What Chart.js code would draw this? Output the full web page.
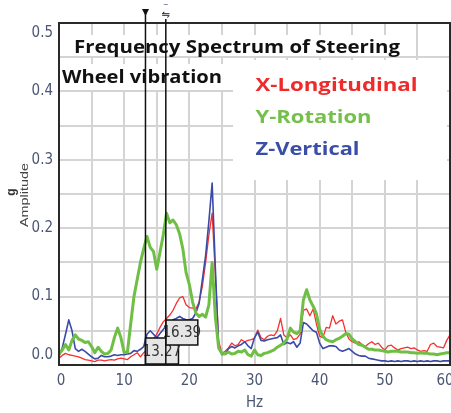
<!DOCTYPE html>
<html><head><meta charset="utf-8">
<script src="https://cdn.jsdelivr.net/npm/chart.js@4/dist/chart.umd.min.js"></script>
<style>html,body{margin:0;padding:0;background:#fff;}#wrap{width:451px;height:413px;}</style>
</head><body><div id="wrap"><canvas id="c" width="451" height="413"></canvas></div>
<script>
const freqHz = [0,0.5,1,1.5,2,2.5,3,3.5,4,4.5,5,5.5,6,6.5,7,7.5,8,8.5,9,9.5,
10,10.5,11,11.5,12,12.5,13,13.5,14,14.5,15,15.5,16,16.5,17,17.5,18,18.5,19,19.5,
20,20.5,21,21.5,22,22.5,23,23.5,24,24.5,25,25.5,26,26.5,27,27.5,28,28.5,29,29.5,
30,30.5,31,31.5,32,32.5,33,33.5,34,34.5,35,35.5,36,36.5,37,37.5,38,38.5,39,39.5,
40,40.5,41,41.5,42,42.5,43,43.5,44,44.5,45,45.5,46,46.5,47,47.5,48,48.5,49,49.5,
50,50.5,51,51.5,52,52.5,53,53.5,54,54.5,55,55.5,56,56.5,57,57.5,58,58.5,59,59.5,60];

const xLongitudinal = [.010,.014,.017,.015,.014,.013,.012,.010,.008,.007,
.006,.005,.007,.007,.006,.007,.008,.007,.009,.010,
.009,.008,.012,.015,.018,.012,.018,.022,.034,.038,
.045,.055,.063,.068,.073,.080,.090,.098,.100,.088,
.084,.083,.082,.092,.115,.150,.190,.222,.130,.035,
.017,.020,.025,.032,.028,.030,.037,.034,.036,.037,
.039,.051,.040,.037,.042,.044,.043,.050,.068,.044,
.040,.044,.037,.039,.045,.080,.082,.072,.082,.060,
.042,.040,.055,.054,.072,.060,.064,.066,.048,.038,
.034,.032,.034,.030,.027,.031,.034,.030,.032,.026,
.022,.028,.029,.025,.022,.024,.025,.026,.024,.025,
.022,.020,.021,.020,.030,.032,.027,.026,.025,.036,.044];

const yRotation = [.016,.022,.030,.022,.036,.044,.038,.036,.033,.034,
.027,.018,.026,.020,.016,.017,.022,.040,.054,.040,
.018,.019,.060,.100,.125,.150,.170,.188,.172,.166,
.140,.165,.190,.222,.208,.212,.205,.192,.170,.135,
.118,.092,.076,.071,.074,.070,.088,.150,.070,.025,
.017,.016,.019,.016,.017,.020,.019,.022,.015,.013,
.022,.015,.014,.017,.018,.020,.022,.026,.029,.032,
.038,.054,.048,.046,.050,.095,.110,.095,.086,.075,
.052,.042,.037,.035,.034,.037,.039,.042,.046,.045,
.038,.034,.030,.029,.026,.023,.023,.022,.022,.021,
.020,.019,.020,.020,.020,.019,.019,.019,.018,.018,
.017,.018,.017,.017,.016,.016,.015,.016,.017,.018,.018];

const zVertical = [.013,.025,.045,.066,.050,.024,.020,.023,.020,.016,
.012,.009,.010,.014,.012,.012,.013,.015,.014,.015,
.015,.016,.017,.021,.020,.023,.027,.045,.050,.045,
.040,.046,.052,.058,.062,.066,.068,.071,.068,.066,
.066,.068,.076,.090,.125,.160,.210,.266,.140,.025,
.015,.016,.024,.027,.025,.028,.030,.034,.028,.024,
.040,.048,.036,.035,.037,.038,.039,.040,.044,.030,
.033,.031,.034,.026,.032,.062,.060,.055,.050,.048,
.032,.024,.026,.028,.028,.027,.022,.020,.022,.024,
.020,.016,.014,.013,.013,.010,.009,.008,.007,.006,
.006,.005,.006,.005,.006,.005,.006,.006,.005,.006,
.005,.006,.005,.006,.005,.006,.006,.005,.006,.006,.006];

const xTickLabels = [0,10,20,30,40,50,60];
const yTickLabels = [0.0,0.1,0.2,0.3,0.4,0.5];
const cursorHz = [13.27, 16.39];
const titleLines = ['Frequency Spectrum of Steering','Wheel vibration'];
const seriesNames = ['X-Longitudinal','Y-Rotation','Z-Vertical'];
const seriesColors = ['#f5302f','#6fbf45','#3b4aa6'];
const legendColors = ['#ee2a2a','#74c04a','#3a4ea8'];
const axisTitles = ['Hz','g','Amplitude'];

const tickColor = '#4a5674';
const tickFont = '"Liberation Sans Narrow","DejaVu Sans Condensed","Liberation Sans",sans-serif';

function fitText(ctx, text, x, y, width, font, color) {
  ctx.save();
  ctx.font = font;
  const w = ctx.measureText(text).width;
  ctx.translate(x, y);
  ctx.scale(width / w, 1);
  ctx.fillStyle = color;
  ctx.textAlign = 'left';
  ctx.textBaseline = 'alphabetic';
  ctx.fillText(text, 0, 0);
  ctx.restore();
}

const overlay = {
  id: 'overlay',
  afterDraw(chart) {
    const ctx = chart.ctx, ca = chart.chartArea;
    const xs = chart.scales.x, ys = chart.scales.y;
    ctx.save();
    // white backgrounds behind annotation texts
    ctx.fillStyle = '#fff';
    ctx.fillRect(70, 35, 336, 21);
    ctx.fillRect(ca.left + 1, 64, 173, 26);
    ctx.fillRect(233, 60, 214, 120);
    // texts
    const bf = 'bold 18px "Open Sans","Noto Sans",sans-serif';
    fitText(ctx, titleLines[0], 74, 52.5, 326, bf, '#111');
    fitText(ctx, titleLines[1], 62, 83, 160, bf, '#111');
    const lb = [91.3, 123, 155.3], lw = [162, 116, 104];
    for (let i = 0; i < 3; i++) fitText(ctx, seriesNames[i], 255.5, lb[i], lw[i], bf, legendColors[i]);
    // frame
    ctx.strokeStyle = '#2a2a2a';
    ctx.lineWidth = 2;
    ctx.strokeRect(ca.left, ca.top, ca.right - ca.left, ca.bottom - ca.top);
    // value boxes
    const cx = cursorHz.map(v => xs.getPixelForValue(v));
    const boxes = [[cx[0], 338, 33, 26], [cx[1], 320, 32, 25]];
    boxes.forEach((b, i) => {
      ctx.fillStyle = '#e6e6e6';
      ctx.fillRect(b[0], b[1], b[2], b[3]);
      ctx.strokeStyle = '#111';
      ctx.lineWidth = 1.5;
      ctx.strokeRect(b[0], b[1], b[2], b[3]);
      ctx.fillStyle = '#333';
      ctx.font = '15px ' + tickFont;
      ctx.textAlign = 'center';
      ctx.textBaseline = 'middle';
      ctx.fillText(cursorHz[i].toFixed(2), b[0] + b[2] / 2, b[1] + b[3] / 2 + 1);
    });
    // cursor lines
    ctx.strokeStyle = '#111';
    ctx.lineWidth = 1.5;
    ctx.beginPath();
    ctx.moveTo(cx[0], 9); ctx.lineTo(cx[0], ca.bottom);
    ctx.moveTo(cx[1], 19); ctx.lineTo(cx[1], ca.bottom);
    ctx.stroke();
    // markers
    ctx.fillStyle = '#111';
    ctx.beginPath();
    ctx.moveTo(cx[0] - 3.5, 9); ctx.lineTo(cx[0] + 3.5, 9); ctx.lineTo(cx[0], 16); ctx.closePath();
    ctx.fill();
    ctx.font = '10px "DejaVu Sans",sans-serif';
    ctx.textAlign = 'center';
    ctx.textBaseline = 'middle';
    ctx.fillText('\u21CB', cx[1], 15);
    ctx.fillStyle = '#8090b0';
    ctx.fillRect(cx[1] - 2, 4, 4, 1);
    // tick labels
    ctx.fillStyle = tickColor;
    ctx.font = '15px ' + tickFont;
    ctx.textAlign = 'right';
    ctx.textBaseline = 'middle';
    yTickLabels.forEach(v => {
      let y = ys.getPixelForValue(v);
      if (v === 0.5) y += 10;
      if (v === 0) y -= 10;
      ctx.fillText(v.toFixed(1), 53, y);
    });
    ctx.textAlign = 'center';
    xTickLabels.forEach(v => {
      let x = xs.getPixelForValue(v);
      if (v === 0) x += 2;
      if (v === 60) x -= 5;
      ctx.fillText(String(v), x, 381);
    });
    // y axis title
    ctx.save();
    ctx.translate(12, 192);
    ctx.rotate(-Math.PI / 2);
    ctx.fillStyle = '#333';
    ctx.font = 'bold 12px "Liberation Sans",sans-serif';
    ctx.textAlign = 'center';
    ctx.textBaseline = 'middle';
    ctx.fillText(axisTitles[1], 0, 0);
    ctx.restore();
    ctx.save();
    ctx.translate(24, 227);
    ctx.rotate(-Math.PI / 2);
    fitText(ctx, axisTitles[2], 0, 4, 64, '11px "Liberation Sans",sans-serif', '#444');
    ctx.restore();
    ctx.restore();
  }
};

const mk = (arr) => freqHz.map((f, i) => ({x: f, y: arr[i]}));

new Chart(document.getElementById('c'), {
  type: 'line',
  data: {
    datasets: [
      {label: seriesNames[1], data: mk(yRotation), borderColor: seriesColors[1], borderWidth: 3},
      {label: seriesNames[2], data: mk(zVertical), borderColor: seriesColors[2], borderWidth: 1.6},
      {label: seriesNames[0], data: mk(xLongitudinal), borderColor: seriesColors[0], borderWidth: 1.3}
    ]
  },
  options: {
    responsive: false,
    devicePixelRatio: 1,
    animation: false,
    elements: {point: {radius: 0}, line: {tension: 0, borderJoinStyle: 'round'}},
    layout: {padding: {top: 23, right: 1, left: 0, bottom: 0}},
    plugins: {legend: {display: false}, tooltip: {enabled: false}},
    scales: {
      x: {
        type: 'linear', min: 0, max: 60,
        afterFit(s) { s.height = 48; },
        ticks: {stepSize: 5, autoSkip: false, maxRotation: 0, display: false},
        grid: {color: '#d4d4d4', lineWidth: 2, drawTicks: false},
        border: {display: false},
        title: {display: true, text: axisTitles[0], color: tickColor,
          font: {family: tickFont, size: 15}, padding: {top: 0, bottom: 1}}
      },
      y: {
        type: 'linear', min: 0, max: 0.5,
        afterFit(s) { s.width = 59; },
        ticks: {stepSize: 0.05, display: false},
        grid: {color: '#d4d4d4', lineWidth: 2, drawTicks: false},
        border: {display: false}
      }
    }
  },
  plugins: [overlay]
});
</script>
</body></html>
